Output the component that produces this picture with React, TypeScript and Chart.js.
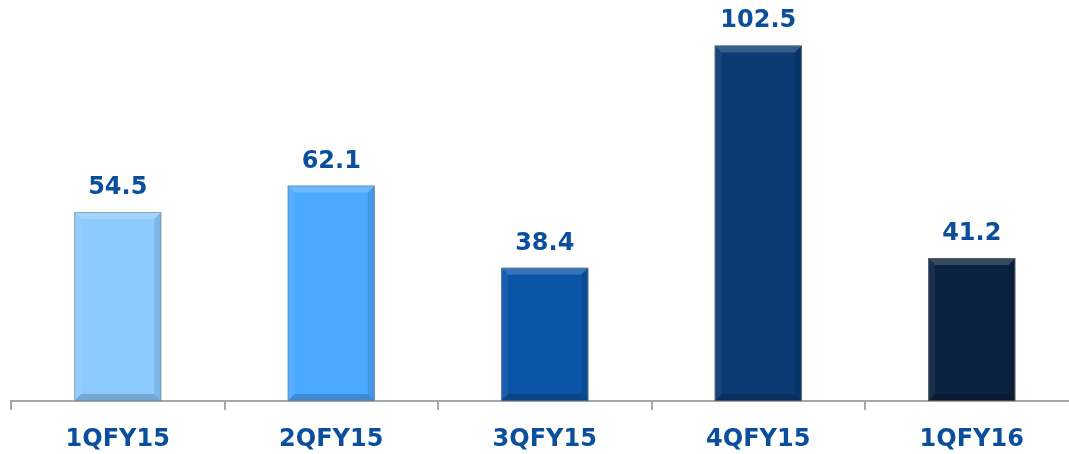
import React, { useEffect, useRef } from "react";
import { Chart, registerables } from "chart.js";

Chart.register(...registerables);

const categories = ["1QFY15", "2QFY15", "3QFY15", "4QFY15", "1QFY16"];
const values = [54.5, 62.1, 38.4, 102.5, 41.2];
const barColors = ["#8DCBFF", "#4BA9FF", "#0A55A8", "#0B3A73", "#0B2340"];
const valueLabels = ["54.5", "62.1", "38.4", "102.5", "41.2"];

const TEXT_COLOR = "#0B4F9C";
const FONT_FAMILY = "'DejaVu Sans', sans-serif";

const bevelPlugin = {
  id: "bevel",
  afterDatasetsDraw(chart: any) {
    const ctx = chart.ctx;
    const meta = chart.getDatasetMeta(0);
    meta.data.forEach((bar: any) => {
      const { x, y, base, width } = bar.getProps(["x", "y", "base", "width"], true);
      const l = x - width / 2;
      const r = x + width / 2;
      const t = y;
      const b = base;
      const bw = 7;
      ctx.save();
      const poly = (pts: number[][], fill: string) => {
        ctx.beginPath();
        ctx.moveTo(pts[0][0], pts[0][1]);
        for (let i = 1; i < pts.length; i++) ctx.lineTo(pts[i][0], pts[i][1]);
        ctx.closePath();
        ctx.fillStyle = fill;
        ctx.fill();
      };
      poly([[l, t], [r, t], [r - bw, t + bw], [l + bw, t + bw]], "rgba(255,255,255,0.18)");
      poly([[l, t], [l + bw, t + bw], [l + bw, b - bw], [l, b]], "rgba(255,255,255,0.06)");
      poly([[r, t], [r, b], [r - bw, b - bw], [r - bw, t + bw]], "rgba(0,0,0,0.10)");
      poly([[l, b], [l + bw, b - bw], [r - bw, b - bw], [r, b]], "rgba(0,0,0,0.18)");
      ctx.strokeStyle = "rgba(120,120,120,0.5)";
      ctx.lineWidth = 1;
      ctx.strokeRect(l + 0.5, t + 0.5, width - 1, b - t - 1);
      ctx.restore();
    });
  },
};

const valueLabelPlugin = {
  id: "valueLabels",
  afterDatasetsDraw(chart: any) {
    const ctx = chart.ctx;
    const meta = chart.getDatasetMeta(0);
    ctx.save();
    ctx.font = `bold 24px ${FONT_FAMILY}`;
    ctx.fillStyle = TEXT_COLOR;
    ctx.textAlign = "center";
    ctx.textBaseline = "alphabetic";
    meta.data.forEach((bar: any, i: number) => {
      ctx.fillText(valueLabels[i], bar.x, bar.y - 18);
    });
    ctx.restore();
  },
};

export default function App() {
  const canvasRef = useRef<HTMLCanvasElement | null>(null);

  useEffect(() => {
    if (!canvasRef.current) return;
    const chart = new Chart(canvasRef.current, {
      type: "bar",
      data: {
        labels: categories,
        datasets: [
          {
            data: values,
            backgroundColor: barColors,
            borderWidth: 0,
            barPercentage: 0.408,
            categoryPercentage: 1,
          },
        ],
      },
      options: {
        responsive: false,
        animation: false,
        layout: { padding: { left: 11, right: 6.5, top: 0, bottom: 0 } },
        plugins: {
          legend: { display: false },
          tooltip: { enabled: false },
        },
        scales: {
          x: {
            afterFit: (scale: any) => {
              scale.height = 53;
            },
            grid: {
              offset: true,
              drawOnChartArea: false,
              drawTicks: true,
              tickLength: 9,
              color: "#A6A6A6",
              lineWidth: 2,
            },
            border: { display: true, color: "#A6A6A6", width: 2 },
            ticks: {
              color: TEXT_COLOR,
              padding: 15,
              font: { family: FONT_FAMILY, size: 24, weight: "bold" },
            },
          },
          y: {
            display: false,
            min: 0,
            max: 115.6,
          },
        },
      },
      plugins: [bevelPlugin, valueLabelPlugin],
    });
    return () => chart.destroy();
  }, []);

  return (
    <div
      style={{
        position: "absolute",
        left: 0,
        top: 0,
        width: 1069,
        height: 454,
        overflow: "hidden",
        background: "#FFFFFF",
      }}
    >
      <canvas ref={canvasRef} width={1085} height={454} style={{ display: "block" }} />
    </div>
  );
}
